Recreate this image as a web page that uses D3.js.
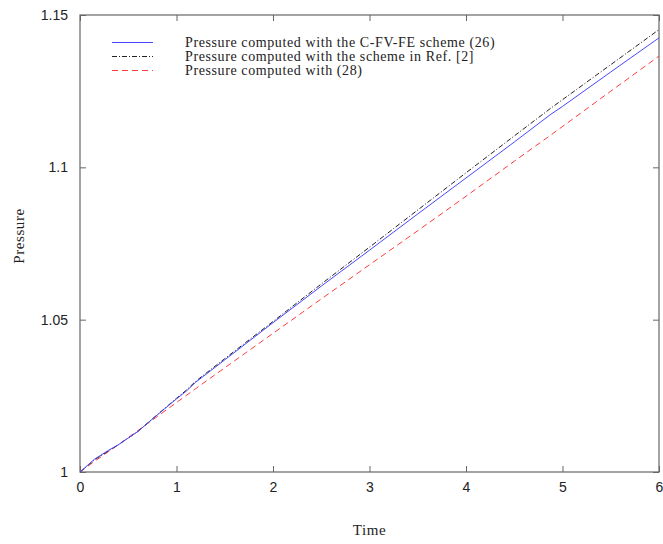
<!DOCTYPE html>
<html>
<head>
<meta charset="utf-8">
<script src="https://cdn.jsdelivr.net/npm/d3@7"></script>
<style>
  body { margin: 0; background: #fff; }
  .tick text { font-family: "Liberation Sans", Arial, sans-serif; font-size: 14px; fill: #222; }
</style>
</head>
<body>
<div id="chart"></div>
<script>
// values
var time = [0, 0.15, 0.3, 0.4, 0.6, 0.8, 1.0, 1.1, 1.2, 1.5, 2, 2.5, 3, 3.5, 4, 4.5, 4.87, 5, 5.5, 6];
var pressureCFVFE = [1, 1.0042, 1.0072, 1.0090, 1.0133, 1.0187, 1.0240, 1.0265, 1.0295, 1.0368, 1.0490, 1.0610, 1.0728, 1.0847, 1.0965, 1.1083, 1.1172, 1.1200, 1.1313, 1.1425];
var pressureRef2 = [1, 1.0040, 1.0070, 1.0090, 1.0133, 1.0188, 1.0242, 1.0268, 1.0298, 1.0372, 1.0494, 1.0617, 1.0738, 1.0860, 1.0982, 1.1103, 1.1192, 1.1222, 1.1337, 1.1452];
var pressure28 = [1, 1.0035, 1.0068, 1.0090, 1.0136, 1.0182, 1.0228, 1.0251, 1.0274, 1.0342, 1.0455, 1.0568, 1.0680, 1.0792, 1.0905, 1.1020, 1.1104, 1.1134, 1.1250, 1.1365];
var xTicks = [0, 1, 2, 3, 4, 5, 6];
var yTicks = [1, 1.05, 1.1, 1.15];
var yTickLabels = ["1", "1.05", "1.1", "1.15"];
var seriesNames = [
  "Pressure computed with the C-FV-FE scheme (26)",
  "Pressure computed with the scheme in Ref. [2]",
  "Pressure computed with (28)"
];

var W = 663, H = 544;
var margin = {left: 80, right: 4, top: 15, bottom: 72};
var serif = "'Liberation Serif', 'Times New Roman', serif";

var svg = d3.select("#chart").append("svg")
  .attr("width", W).attr("height", H);

var x = d3.scaleLinear().domain([0, 6]).range([margin.left, W - margin.right]);
var y = d3.scaleLinear().domain([1, 1.15]).range([H - margin.bottom, margin.top]);

var axisColor = "#666";

// frame
svg.append("rect")
  .attr("x", x(0)).attr("y", y(1.15))
  .attr("width", x(6) - x(0)).attr("height", y(1) - y(1.15))
  .attr("fill", "none").attr("stroke", axisColor).attr("stroke-width", 1.2);

function styleAxis(g) {
  g.select(".domain").remove();
  g.selectAll(".tick line").attr("stroke", axisColor).attr("stroke-width", 1);
}

// bottom axis with inward ticks
svg.append("g")
  .attr("transform", "translate(0," + y(1) + ")")
  .call(d3.axisBottom(x).tickValues(xTicks).tickFormat(d3.format("d")).tickSizeInner(-6).tickSizeOuter(0).tickPadding(10))
  .call(styleAxis);
// top axis ticks
svg.append("g")
  .attr("transform", "translate(0," + y(1.15) + ")")
  .call(d3.axisTop(x).tickValues(xTicks).tickFormat("").tickSizeInner(-6).tickSizeOuter(0))
  .call(styleAxis);
// left axis
svg.append("g")
  .attr("transform", "translate(" + x(0) + ",0)")
  .call(d3.axisLeft(y).tickValues(yTicks).tickFormat(function(d, i) { return yTickLabels[i]; }).tickSizeInner(-6).tickSizeOuter(0).tickPadding(12))
  .call(styleAxis);
// right axis ticks
svg.append("g")
  .attr("transform", "translate(" + x(6) + ",0)")
  .call(d3.axisRight(y).tickValues(yTicks).tickFormat("").tickSizeInner(-6).tickSizeOuter(0))
  .call(styleAxis);

// series
var series = [
  {name: seriesNames[0], values: pressureCFVFE, color: "#4848ff", dash: null},
  {name: seriesNames[1], values: pressureRef2, color: "#222", dash: "5,2,1,2"},
  {name: seriesNames[2], values: pressure28, color: "#ff3b3b", dash: "6,4"}
];

var line = d3.line()
  .x(function(d) { return x(d[0]); })
  .y(function(d) { return y(d[1]); });

// draw red first, then black, then blue on top
[2, 1, 0].forEach(function(k) {
  var s = series[k];
  svg.append("path")
    .datum(time.map(function(t, i) { return [t, s.values[i]]; }))
    .attr("d", line)
    .attr("fill", "none")
    .attr("stroke", s.color)
    .attr("stroke-width", 1)
    .attr("stroke-dasharray", s.dash);
});

// legend
var legend = svg.append("g");
series.forEach(function(s, i) {
  var ly = 42.5 + i * 14;
  legend.append("line")
    .attr("x1", 112).attr("x2", 153)
    .attr("y1", ly).attr("y2", ly)
    .attr("stroke", s.color).attr("stroke-width", 1)
    .attr("stroke-dasharray", s.dash);
  legend.append("text")
    .attr("x", 185).attr("y", ly + 4.5)
    .attr("font-family", serif)
    .attr("font-size", 14)
    .attr("letter-spacing", 0.6)
    .attr("fill", "#222")
    .text(s.name);
});

// axis titles
svg.append("text")
  .attr("x", x(3)).attr("y", 535)
  .attr("text-anchor", "middle")
  .attr("font-family", serif)
  .attr("font-size", 15)
  .attr("letter-spacing", 0.6)
  .attr("fill", "#222")
  .text("Time");

svg.append("text")
  .attr("transform", "translate(24," + 236 + ") rotate(-90)")
  .attr("text-anchor", "middle")
  .attr("font-family", serif)
  .attr("font-size", 15)
  .attr("letter-spacing", 0.6)
  .attr("fill", "#222")
  .text("Pressure");
</script>
</body>
</html>
